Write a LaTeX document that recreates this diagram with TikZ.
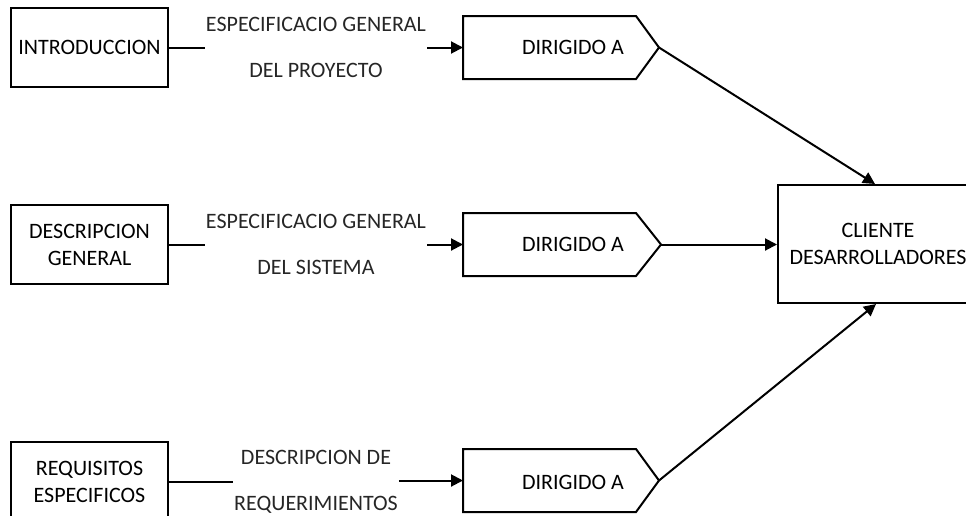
\documentclass[tikz,border=0pt]{standalone}
\usepackage{fontspec}
\setmainfont{Carlito}
\usetikzlibrary{arrows.meta}
\tikzset{
  box/.style={draw, line width=2pt, minimum width=157pt, minimum height=79pt, inner sep=0pt, align=center, font=\fontsize{22}{27}\selectfont, text=black},
  lbl/.style={inner sep=1pt, align=center, font=\fontsize{22}{46}\selectfont, text=black!85},
  txt/.style={inner sep=0pt, font=\fontsize{22}{27}\selectfont, text=black},
  pent/.style={draw, line width=2pt, line join=miter},
  conn/.style={line width=2pt},
  arr/.style={line width=2pt, -{Triangle[length=12pt,width=12pt]}}
}
\begin{document}
\begin{tikzpicture}[x=1pt,y=-1pt]
\useasboundingbox (0,0) rectangle (966,515);
% left boxes
\node[box] (b1) at (89.5,47.5) {INTRODUCCION};
\node[box] (b2) at (89.5,244.5) {DESCRIPCION\\GENERAL};
\node[box] (b3) at (89.5,481.5) {REQUISITOS\\ESPECIFICOS};
% labels
\node[lbl] (l1) at (316,47.5) {ESPECIFICACIO GENERAL\\DEL PROYECTO};
\node[lbl] (l2) at (316,244) {ESPECIFICACIO GENERAL\\DEL SISTEMA};
\node[lbl] (l3) at (316,481.5) {DESCRIPCION DE\\REQUERIMIENTOS};
% pentagons
\draw[pent] (463,16) -- (636,16) -- (659,47.5) coordinate (t1) -- (636,79) -- (463,79) -- cycle;
\coordinate (w1) at (463,47.5);
\node[txt] (d1) at (573,47.5) {DIRIGIDO A};
\draw[pent] (463,213) -- (636,213) -- (661,244.5) coordinate (t2) -- (636,276) -- (463,276) -- cycle;
\coordinate (w2) at (463,244.5);
\node[txt] (d2) at (573,244.5) {DIRIGIDO A};
\draw[pent] (463,449) -- (636,449) -- (659,480.5) coordinate (t3) -- (636,512) -- (463,512) -- cycle;
\coordinate (w3) at (463,480.5);
\node[txt] (d3) at (573,482) {DIRIGIDO A};
% client box
\node[box, minimum width=200pt, minimum height=118pt] (cl) at (878,244) {CLIENTE\\DESARROLLADORES};
% connectors
\draw[conn] (b1.east) -- (b1.east -| l1.west);
\draw[arr] (l1.east |- w1) -- (w1);
\draw[conn] (b2.east) -- (b2.east -| l2.west);
\draw[arr] (l2.east |- w2) -- (w2);
\draw[conn] (b3.east) -- (b3.east -| l3.west);
\draw[arr] (l3.east |- w3) -- (w3);
\draw[arr] (t1) -- ([xshift=-3pt]cl.north);
\draw[arr] (t2) -- (t2 -| cl.west);
\draw[arr] (t3) -- ([xshift=-2pt]cl.south);
\end{tikzpicture}
\end{document}
